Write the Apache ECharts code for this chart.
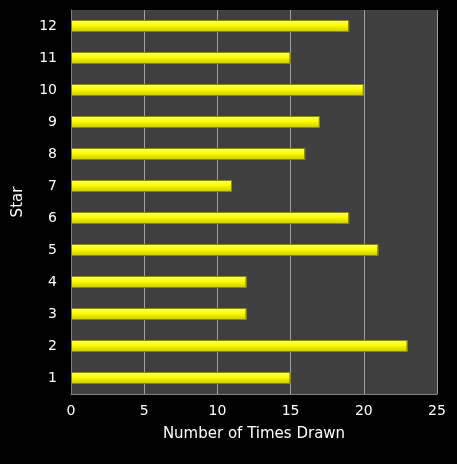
<!DOCTYPE html>
<html><head><meta charset="utf-8">
<script src="https://cdn.jsdelivr.net/npm/echarts@6/dist/echarts.min.js"></script>
<style>html,body{margin:0;padding:0;background:#000}#c{width:457px;height:464px}</style>
</head><body><div id="c"></div>
<script>
const categories = ['1','2','3','4','5','6','7','8','9','10','11','12'];
const values = [15,23,12,12,21,19,11,16,17,20,15,19];
const chart = echarts.init(document.getElementById('c'));
chart.setOption({
  backgroundColor:'#000',
  grid:{left:71,right:20,top:10,bottom:70,show:true,backgroundColor:'#404040',borderWidth:0},
  xAxis:{type:'value',min:0,max:25,interval:5,
    name:'Number of Times Drawn',nameLocation:'middle',nameGap:33,
    nameTextStyle:{color:'#fff',fontSize:15,fontFamily:'DejaVu Sans'},
    axisLabel:{color:'#fff',fontSize:14,fontFamily:'DejaVu Sans',margin:10},
    axisLine:{show:true,lineStyle:{color:'#808080'}},
    splitLine:{lineStyle:{color:'#a0a0a0',width:1}}},
  yAxis:{type:'category',data:categories,
    name:'Star',nameLocation:'middle',nameGap:45,
    nameTextStyle:{color:'#fff',fontSize:15,fontFamily:'DejaVu Sans'},
    axisLabel:{color:'#fff',fontSize:14,fontFamily:'DejaVu Sans',margin:14},
    axisLine:{show:true,lineStyle:{color:'#808080'}},axisTick:{show:false}},
  series:[{type:'bar',data:values,barWidth:12,
    itemStyle:{color:new echarts.graphic.LinearGradient(0,0,0,1,[
      {offset:0,color:'#ffff80'},{offset:0.4,color:'#ffff00'},{offset:1,color:'#c8c800'}]),
      borderColor:'#8a8a00',borderWidth:1}}]
});
</script></body></html>
